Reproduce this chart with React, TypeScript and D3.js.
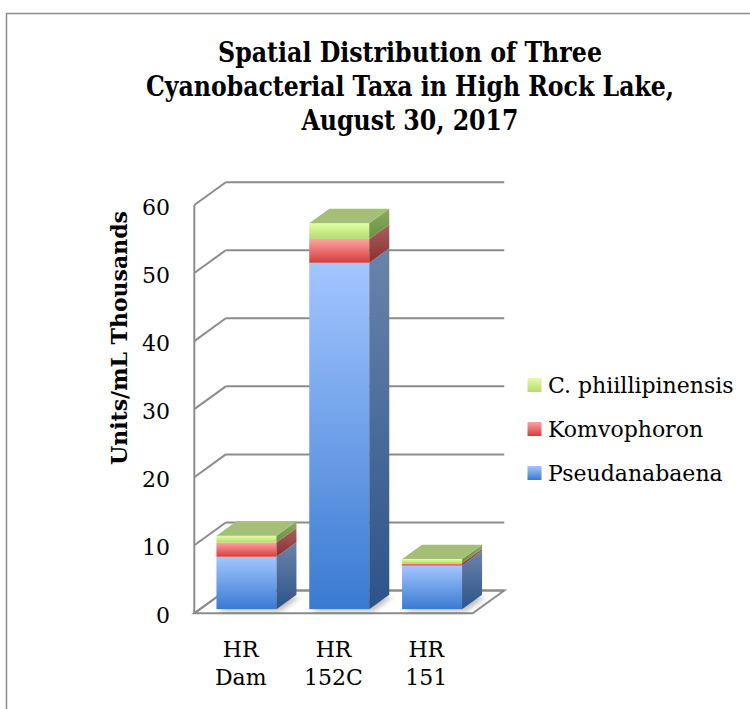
import React from "react";
import * as d3 from "d3";

const categories = ["HR Dam", "HR 152C", "HR 151"];
const categoryLines = [["HR", "Dam"], ["HR", "152C"], ["HR", "151"]];
const seriesNames = ["Pseudanabaena", "Komvophoron", "C. phiillipinensis"];
const pseudanabaena = [7.7, 50.9, 6.4];
const komvophoron = [2.1, 3.5, 0.35];
const cPhiillipinensis = [1.0, 2.3, 0.6];
const yTicks = [0, 10, 20, 30, 40, 50, 60];
const titleLines = [
  "Spatial Distribution of Three",
  "Cyanobacterial Taxa in High Rock Lake,",
  "August 30, 2017",
];
const yTitle = "Units/mL Thousands";

const W = 750;
const H = 709;

// 3D geometry
const frontLeft = 194.3;
const frontRight = 472.7;
const depthX = 31.5;
const depthY = -22.8;
const barDepthFrac = 0.635;
const gapFrac = (1 - barDepthFrac) / 2;
const barWidth = 60;

const palettes = [
  { id: "blue", front: ["#a3c6ff", "#3a7ad2"], side: ["#6a84ab", "#2c5389"], top: "#8fb0e0" },
  { id: "red", front: ["#ffa3a3", "#d63c3c"], side: ["#a86262", "#8a2e2e"], top: "#c07070" },
  { id: "green", front: ["#e2ffa6", "#b4dc6c"], side: ["#8aab62", "#6c8f3e"], top: "#a5bf79" },
];

export default function App() {
  const x = d3.scaleBand<string>().domain(categories).range([frontLeft, frontRight]).padding(0);
  const y = d3.scaleLinear().domain([0, 60]).range([613.3, 205]);

  const rows = categories.map((c, i) => ({
    cat: c,
    [seriesNames[0]]: pseudanabaena[i],
    [seriesNames[1]]: komvophoron[i],
    [seriesNames[2]]: cPhiillipinensis[i],
  }));
  const stacked = d3.stack<any>().keys(seriesNames)(rows);

  const bw = x.bandwidth();
  const offX = depthX * gapFrac;
  const offY = depthY * gapFrac;
  const bdx = depthX * barDepthFrac;
  const bdy = depthY * barDepthFrac;
  const gridColor = "#8c8c8c";

  const serif = "'DejaVu Serif', 'Liberation Serif', serif";

  const legendY = [385, 429, 473];
  const legendOrder = [2, 1, 0];

  return (
    <svg
      width={W}
      height={H}
      style={{ position: "absolute", left: 0, top: 0, background: "#fff" }}
    >
      <defs>
        {palettes.map((p) => (
          <React.Fragment key={p.id}>
            <linearGradient id={`${p.id}-front`} x1="0" y1="0" x2="0" y2="1">
              <stop offset="0%" stopColor={p.front[0]} />
              <stop offset="100%" stopColor={p.front[1]} />
            </linearGradient>
            <linearGradient id={`${p.id}-side`} x1="0" y1="0" x2="0" y2="1">
              <stop offset="0%" stopColor={p.side[0]} />
              <stop offset="100%" stopColor={p.side[1]} />
            </linearGradient>
          </React.Fragment>
        ))}
        <filter id="shadow" x="-20%" y="-50%" width="140%" height="200%">
          <feGaussianBlur stdDeviation="2.5" />
        </filter>
      </defs>

      {/* outer chart border */}
      <rect x={6.5} y={13.5} width={800} height={800} fill="none" stroke="#8a8a8a" strokeWidth={1.5} />

      {/* title */}
      {titleLines.map((t, i) => (
        <text
          key={i}
          x={410}
          y={62 + i * 34}
          textAnchor="middle"
          fontFamily={serif}
          fontWeight="bold"
          fontSize={27}
          textLength={[384, 528, 217][i]}
          lengthAdjust="spacingAndGlyphs"
          fill="#000"
        >
          {t}
        </text>
      ))}

      {/* floor */}
      <polygon
        points={[
          [frontLeft, y(0)],
          [frontRight, y(0)],
          [frontRight + depthX, y(0) + depthY],
          [frontLeft + depthX, y(0) + depthY],
        ]
          .map((p) => p.join(","))
          .join(" ")}
        fill="#fff"
        stroke={gridColor}
        strokeWidth={2}
      />

      {/* back wall gridlines and left wall diagonals */}
      {yTicks.map((t) => (
        <g key={t}>
          <line
            x1={frontLeft + depthX}
            x2={frontRight + depthX}
            y1={y(t) + depthY}
            y2={y(t) + depthY}
            stroke={gridColor}
            strokeWidth={2}
          />
          <line
            x1={frontLeft}
            x2={frontLeft + depthX}
            y1={y(t)}
            y2={y(t) + depthY}
            stroke={gridColor}
            strokeWidth={2}
          />
        </g>
      ))}
      <line x1={frontLeft} x2={frontLeft} y1={y(0)} y2={y(60)} stroke={gridColor} strokeWidth={2} />

      {/* tick labels */}
      {yTicks.map((t) => (
        <text
          key={t}
          x={170}
          y={y(t) + 2}
          textAnchor="end"
          dominantBaseline="central"
          fontFamily={serif}
          fontSize={22}
          fill="#000"
        >
          {t}
        </text>
      ))}

      {/* y axis title */}
      <text
        transform={`translate(127,338) rotate(-90)`}
        textAnchor="middle"
        fontFamily={serif}
        fontWeight="bold"
        fontSize={22}
        fill="#000"
      >
        {yTitle}
      </text>

      {/* bar shadows */}
      {categories.map((c) => {
        const x0 = (x(c) as number) + (bw - barWidth) / 2 + offX;
        const yb = y(0) + offY;
        return (
          <polygon
            key={`sh-${c}`}
            points={[
              [x0 + 2, yb + 2],
              [x0 + barWidth + 4, yb + 2],
              [x0 + barWidth + bdx + 4, yb + bdy + 2],
              [x0 + bdx + 2, yb + bdy + 2],
            ]
              .map((p) => p.join(","))
              .join(" ")}
            fill="#000"
            opacity={0.25}
            filter="url(#shadow)"
          />
        );
      })}

      {/* bars */}
      {categories.map((c, ci) => {
        const x0 = (x(c) as number) + (bw - barWidth) / 2 + offX;
        const x1 = x0 + barWidth;
        return (
          <g key={c}>
            {stacked.map((s, si) => {
              const seg = s[ci];
              const yTop = y(seg[1]) + offY;
              const yBot = y(seg[0]) + offY;
              const p = palettes[si];
              const isTop = si === stacked.length - 1;
              return (
                <g key={si}>
                  <rect x={x0} y={yTop} width={barWidth} height={Math.max(0, yBot - yTop)} fill={`url(#${p.id}-front)`} />
                  <polygon
                    points={[
                      [x1, yBot],
                      [x1 + bdx, yBot + bdy],
                      [x1 + bdx, yTop + bdy],
                      [x1, yTop],
                    ]
                      .map((q) => q.join(","))
                      .join(" ")}
                    fill={`url(#${p.id}-side)`}
                  />
                  {isTop && (
                    <polygon
                      points={[
                        [x0, yTop],
                        [x1, yTop],
                        [x1 + bdx, yTop + bdy],
                        [x0 + bdx, yTop + bdy],
                      ]
                        .map((q) => q.join(","))
                        .join(" ")}
                      fill={p.top}
                    />
                  )}
                </g>
              );
            })}
          </g>
        );
      })}

      {/* category labels */}
      {categories.map((c, i) => (
        <text
          key={c}
          x={(x(c) as number) + bw / 2}
          textAnchor="middle"
          fontFamily={serif}
          fontSize={22}
          fill="#000"
        >
          {categoryLines[i].map((l, li) => (
            <tspan key={li} x={(x(c) as number) + bw / 2} y={657 + li * 28}>
              {l}
            </tspan>
          ))}
        </text>
      ))}

      {/* legend */}
      {legendOrder.map((si, i) => (
        <g key={si}>
          <rect x={527.5} y={legendY[i] - 7} width={14} height={14} fill={`url(#${palettes[si].id}-front)`} />
          <text
            x={548}
            y={legendY[i]}
            dominantBaseline="central"
            fontFamily={serif}
            fontSize={22}
            fill="#000"
          >
            {seriesNames[si]}
          </text>
        </g>
      ))}
    </svg>
  );
}
